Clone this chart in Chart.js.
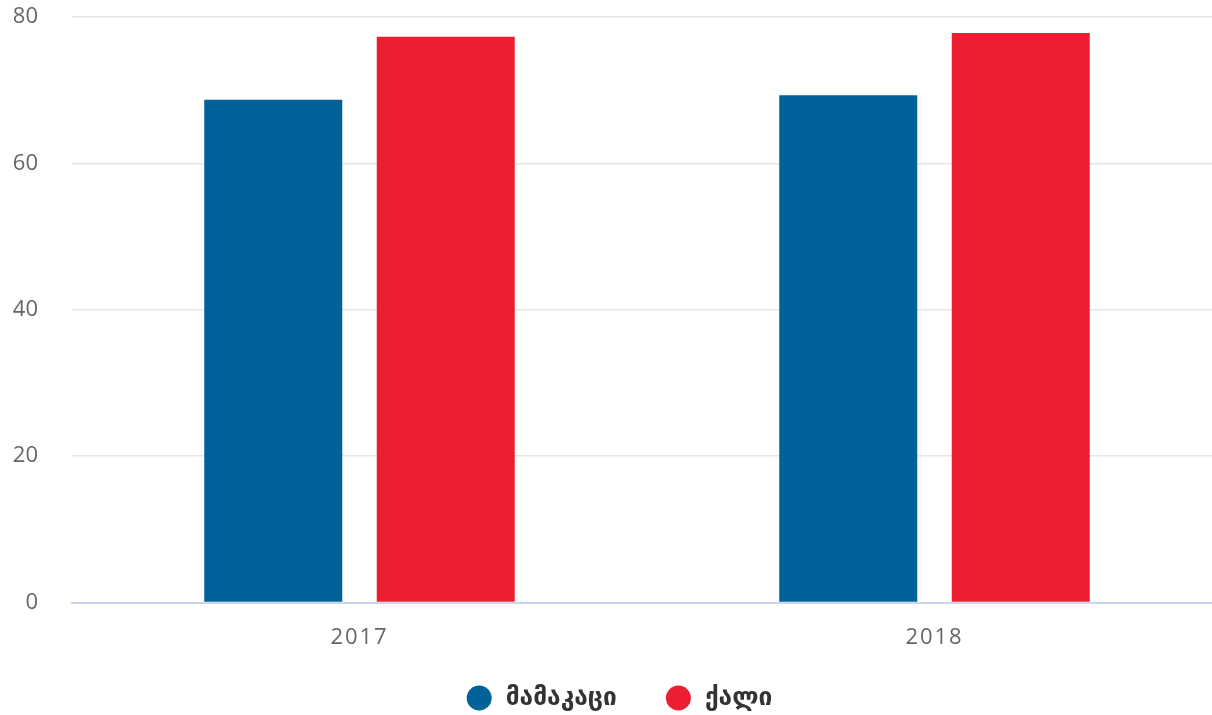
<!DOCTYPE html>
<html>
<head>
<meta charset="utf-8">
<script src="https://cdn.jsdelivr.net/npm/chart.js@4.4.1/dist/chart.umd.min.js"></script>
<style>
  html, body { margin: 0; padding: 0; background: #ffffff; overflow: hidden; }
  #wrap { position: absolute; left: 0; top: 0; width: 1222px; height: 715px; }
</style>
</head>
<body>
<div id="wrap"><canvas id="chart" width="1222" height="715"></canvas></div>
<script>
// Years on the category axis
const categories = ['2017', '2018'];
// Series values (per year)
const maleValues = [68.7, 69.3];
const femaleValues = [77.3, 77.8];
// Series names
const seriesNames = ['მამაკაცი', 'ქალი'];
// Value-axis ticks
const yTicks = [0, 20, 40, 60, 80];

const BLUE = '#006298';
const RED = '#ec1e32';
const TICK_FONT = '"Open Sans", "DejaVu Sans", sans-serif';
const LEGEND_FONT = '"DejaVu Sans", "Noto Sans", sans-serif';

// Legend drawn as a centred row of filled circles + bold labels under the axis
const bottomLegend = {
  id: 'bottomLegend',
  afterDraw(chart) {
    const ctx = chart.ctx;
    const r = 12.5, gapText = 14, gapItem = 49, centerX = 619.5, y = 698;
    ctx.save();
    ctx.font = 'bold 24.5px ' + LEGEND_FONT;
    const items = chart.data.datasets.map(ds => ({
      label: ds.label, color: ds.backgroundColor,
      w: 2 * r + gapText + ctx.measureText(ds.label).width
    }));
    const total = items.reduce((s, it) => s + it.w, 0) + gapItem * (items.length - 1);
    let x = centerX - total / 2;
    items.forEach(it => {
      ctx.fillStyle = it.color;
      ctx.beginPath();
      ctx.arc(x + r, y, r, 0, Math.PI * 2);
      ctx.fill();
      ctx.fillStyle = '#333333';
      ctx.textAlign = 'left';
      ctx.textBaseline = 'middle';
      ctx.fillText(it.label, x + 2 * r + gapText, y + 1);
      x += it.w + gapItem;
    });
    ctx.restore();
  }
};

// Slightly tracked-out category labels
function spacedLabels(scale, spacing) {
  if (scale._spacedLabels) return;
  scale._spacedLabels = true;
  const base = scale.drawLabels;
  scale.drawLabels = function (area) {
    const ctx = this.ctx;
    ctx.save();
    ctx.letterSpacing = spacing;
    base.call(this, area);
    ctx.restore();
  };
}

new Chart(document.getElementById('chart'), {
  type: 'bar',
  data: {
    labels: categories,
    datasets: [
      { label: seriesNames[0], data: maleValues, backgroundColor: BLUE },
      { label: seriesNames[1], data: femaleValues, backgroundColor: RED }
    ]
  },
  options: {
    responsive: false,
    animation: false,
    devicePixelRatio: 1,
    categoryPercentage: 0.6,
    barPercentage: 0.8,
    layout: { padding: { top: 17, left: 0, right: 0, bottom: 0 } },
    plugins: {
      legend: { display: false },
      tooltip: { enabled: false }
    },
    scales: {
      x: {
        grid: { display: false, drawTicks: false },
        border: { display: true, color: '#ccd6eb', width: 2 },
        ticks: {
          color: '#666666',
          font: { family: TICK_FONT, size: 22 },
          padding: 22
        },
        afterFit(scale) {
          scale.height = 112.5;
          scale.paddingLeft = 0;
          scale.paddingRight = 0;
        },
        afterUpdate(scale) { spacedLabels(scale, '1.9px'); }
      },
      y: {
        min: 0,
        max: 80,
        afterBuildTicks(scale) { scale.ticks = yTicks.map(v => ({ value: v })); },
        grid: {
          color: ctx => ctx.tick && ctx.tick.value === 0 ? 'rgba(0,0,0,0)' : '#e6e6e6',
          lineWidth: 1.5,
          drawTicks: false
        },
        border: { display: false },
        ticks: {
          color: '#666666',
          font: { family: TICK_FONT, size: 22 },
          padding: 34
        },
        afterFit(scale) {
          scale.width = 72;
          scale.paddingTop = 0;
          scale.paddingBottom = 0;
        }
      }
    }
  },
  plugins: [bottomLegend]
});
</script>
</body>
</html>
